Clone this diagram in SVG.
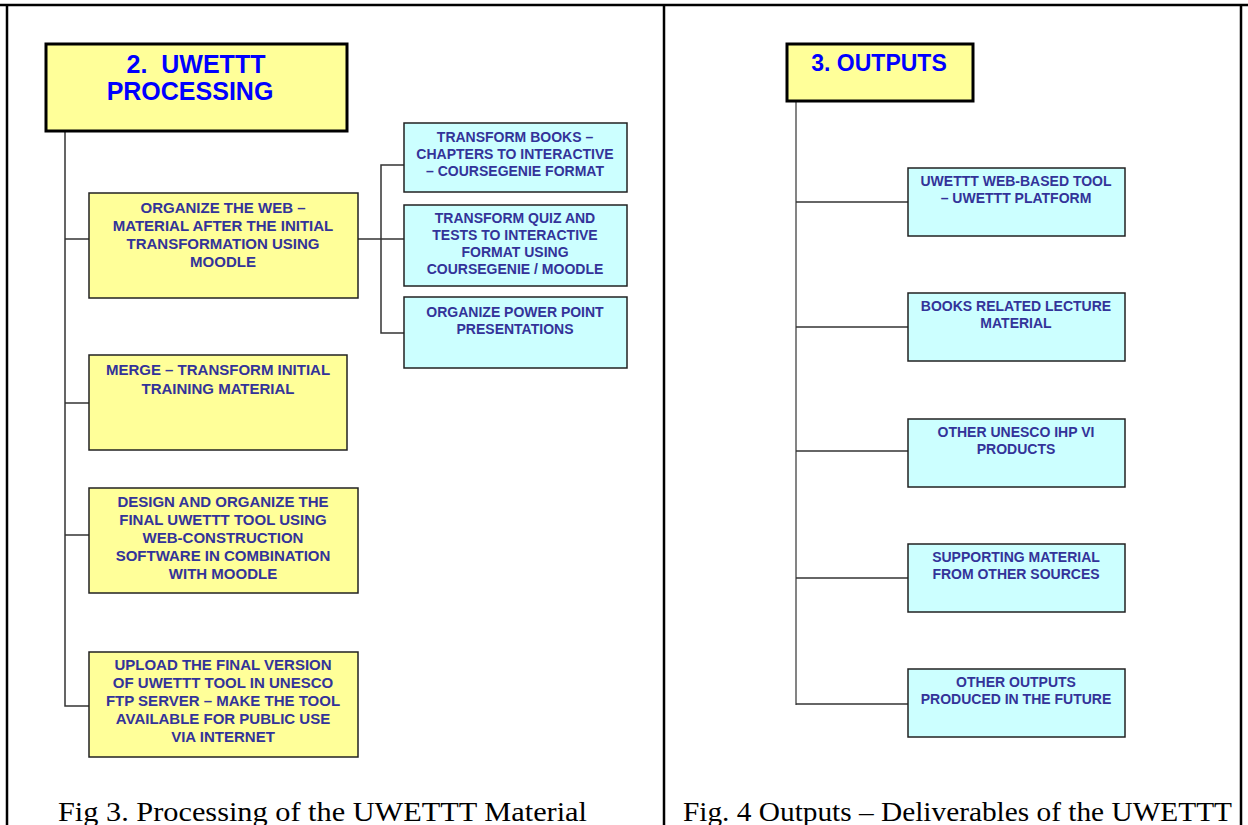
<svg xmlns="http://www.w3.org/2000/svg" width="1248" height="825" viewBox="0 0 1248 825">
<style>
.frame{stroke:#000;stroke-width:2.5;fill:none}
.title{fill:#ffff99;stroke:#000;stroke-width:3}
.y{fill:#ffff99;stroke:#222;stroke-width:1.5}
.c{fill:#ccffff;stroke:#222;stroke-width:1.5}
.tt{font-family:"Liberation Sans",Arial,sans-serif;font-weight:bold;font-size:25px;fill:#0000ff;text-anchor:middle}
.t{font-family:"Liberation Sans",Arial,sans-serif;font-weight:bold;font-size:15px;fill:#333399;text-anchor:middle}
.tc{font-family:"Liberation Sans",Arial,sans-serif;font-weight:bold;font-size:14px;fill:#333399;text-anchor:middle}
.cap{font-family:"Liberation Serif","Times New Roman",serif;font-size:28px;fill:#000}
.ln{stroke:#333;stroke-width:1.5;fill:none}
.lg{stroke:#777;stroke-width:1.8;fill:none}
</style>
<rect width="1248" height="825" fill="#fff"/>
<g id="table">
<line class="frame" x1="0" y1="5" x2="1248" y2="5"/>
<line class="frame" x1="7" y1="5" x2="7" y2="825"/>
<line class="frame" x1="664" y1="5" x2="664" y2="825"/>
<line class="frame" x1="1241" y1="5" x2="1241" y2="825"/>
</g>
<g id="connectors">
<polyline class="ln" points="65,131 65,706 89,706"/>
<line class="ln" x1="65" y1="239" x2="89" y2="239"/>
<line class="ln" x1="65" y1="403" x2="89" y2="403"/>
<line class="ln" x1="65" y1="535" x2="89" y2="535"/>
<line class="ln" x1="358" y1="239" x2="404" y2="239"/>
<polyline class="ln" points="404,165 381,165 381,333 404,333"/>
<line class="lg" x1="796" y1="101" x2="796" y2="705"/>
<line class="ln" x1="796" y1="202" x2="908" y2="202"/>
<line class="ln" x1="796" y1="327" x2="908" y2="327"/>
<line class="ln" x1="796" y1="451" x2="908" y2="451"/>
<line class="ln" x1="796" y1="578" x2="908" y2="578"/>
<line class="ln" x1="796" y1="704" x2="908" y2="704"/>
</g>
<g id="n_processing">
<rect class="title" x="46" y="44" width="301" height="87"/>
<text class="tt" x="196" y="73">2.&#160; UWETTT</text>
<text class="tt" x="190" y="100">PROCESSING</text>
</g>
<g id="n_organize">
<rect class="y" x="89" y="193" width="269" height="105"/>
<text class="t" x="223" y="213">ORGANIZE THE WEB –</text>
<text class="t" x="223" y="231">MATERIAL AFTER THE INITIAL</text>
<text class="t" x="223" y="249">TRANSFORMATION USING</text>
<text class="t" x="223" y="267">MOODLE</text>
</g>
<g id="n_books">
<rect class="c" x="404" y="123" width="223" height="69"/>
<text class="tc" x="515" y="142">TRANSFORM BOOKS –</text>
<text class="tc" x="515" y="159">CHAPTERS TO INTERACTIVE</text>
<text class="tc" x="515" y="176">– COURSEGENIE FORMAT</text>
</g>
<g id="n_quiz">
<rect class="c" x="404" y="205" width="223" height="81"/>
<text class="tc" x="515" y="223">TRANSFORM QUIZ AND</text>
<text class="tc" x="515" y="240">TESTS TO INTERACTIVE</text>
<text class="tc" x="515" y="257">FORMAT USING</text>
<text class="tc" x="515" y="274">COURSEGENIE / MOODLE</text>
</g>
<g id="n_ppt">
<rect class="c" x="404" y="297" width="223" height="71"/>
<text class="tc" x="515" y="317">ORGANIZE POWER POINT</text>
<text class="tc" x="515" y="334">PRESENTATIONS</text>
</g>
<g id="n_merge">
<rect class="y" x="89" y="355" width="258" height="95"/>
<text class="t" x="218" y="375">MERGE – TRANSFORM INITIAL</text>
<text class="t" x="218" y="394">TRAINING MATERIAL</text>
</g>
<g id="n_design">
<rect class="y" x="89" y="488" width="269" height="105"/>
<text class="t" x="223" y="507">DESIGN AND ORGANIZE THE</text>
<text class="t" x="223" y="525">FINAL UWETTT TOOL USING</text>
<text class="t" x="223" y="543">WEB-CONSTRUCTION</text>
<text class="t" x="223" y="561">SOFTWARE IN COMBINATION</text>
<text class="t" x="223" y="579">WITH MOODLE</text>
</g>
<g id="n_upload">
<rect class="y" x="89" y="652" width="269" height="105"/>
<text class="t" x="223" y="670">UPLOAD THE FINAL VERSION</text>
<text class="t" x="223" y="688">OF UWETTT TOOL IN UNESCO</text>
<text class="t" x="223" y="706">FTP SERVER – MAKE THE TOOL</text>
<text class="t" x="223" y="724">AVAILABLE FOR PUBLIC USE</text>
<text class="t" x="223" y="742">VIA INTERNET</text>
</g>
<g id="n_outputs">
<rect class="title" x="787" y="44" width="186" height="57"/>
<text class="tt" x="879" y="71" style="font-size:23px">3. OUTPUTS</text>
</g>
<g id="n_webtool">
<rect class="c" x="908" y="168" width="217" height="68"/>
<text class="tc" x="1016" y="186">UWETTT WEB-BASED TOOL</text>
<text class="tc" x="1016" y="203">– UWETTT PLATFORM</text>
</g>
<g id="n_lecture">
<rect class="c" x="908" y="293" width="217" height="68"/>
<text class="tc" x="1016" y="311">BOOKS RELATED LECTURE</text>
<text class="tc" x="1016" y="328">MATERIAL</text>
</g>
<g id="n_unesco">
<rect class="c" x="908" y="419" width="217" height="68"/>
<text class="tc" x="1016" y="437">OTHER UNESCO IHP VI</text>
<text class="tc" x="1016" y="454">PRODUCTS</text>
</g>
<g id="n_supporting">
<rect class="c" x="908" y="544" width="217" height="68"/>
<text class="tc" x="1016" y="562">SUPPORTING MATERIAL</text>
<text class="tc" x="1016" y="579">FROM OTHER SOURCES</text>
</g>
<g id="n_future">
<rect class="c" x="908" y="669" width="217" height="68"/>
<text class="tc" x="1016" y="687">OTHER OUTPUTS</text>
<text class="tc" x="1016" y="704">PRODUCED IN THE FUTURE</text>
</g>
<g id="captions">
<text class="cap" x="58" y="821" textLength="529" lengthAdjust="spacingAndGlyphs">Fig 3. Processing of the UWETTT Material</text>
<text class="cap" x="683" y="821" textLength="549" lengthAdjust="spacingAndGlyphs">Fig. 4 Outputs – Deliverables of the UWETTT</text>
</g>
</svg>
